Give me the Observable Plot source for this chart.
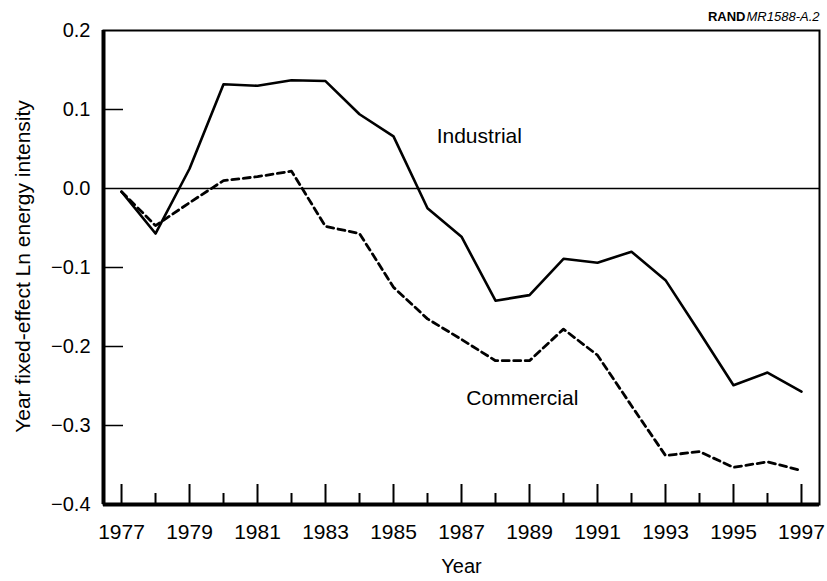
<!DOCTYPE html>
<html>
<head>
<meta charset="utf-8">
<script src="https://cdn.jsdelivr.net/npm/d3@7"></script>
<script src="https://cdn.jsdelivr.net/npm/@observablehq/plot@0.6"></script>
<style>
  html, body { margin: 0; padding: 0; background: #fff; }
  #chart { width: 827px; height: 581px; }
</style>
</head>
<body>
<div id="chart"></div>
<script>
const years = [1977,1978,1979,1980,1981,1982,1983,1984,1985,1986,1987,1988,1989,1990,1991,1992,1993,1994,1995,1996,1997];
const industrial = [-0.004,-0.057,0.025,0.132,0.130,0.137,0.136,0.094,0.066,-0.025,-0.061,-0.142,-0.135,-0.089,-0.094,-0.080,-0.116,-0.182,-0.249,-0.233,-0.257];
const commercial = [-0.004,-0.047,-0.018,0.010,0.015,0.022,-0.048,-0.057,-0.125,-0.165,-0.191,-0.218,-0.218,-0.178,-0.211,-0.275,-0.338,-0.333,-0.353,-0.346,-0.357];
const xLabelTicks = [1977,1979,1981,1983,1985,1987,1989,1991,1993,1995,1997];
const xMinorTicks = [1978,1980,1982,1984,1986,1988,1990,1992,1994,1996];
const yTickValues = [0.2,0.1,0.0,-0.1,-0.2,-0.3,-0.4];
const yInnerTicks = [0.1,-0.1,-0.2,-0.3];
const xDomain = [1976.47, 1997.53];
const yDomain = [-0.4, 0.2];
const seriesLabels = [
  {name: "Industrial", year: 1986.27, value: 0.066, anchor: "start"},
  {name: "Commercial", year: 1988.79, value: -0.265, anchor: "middle"}
];

const ind = years.map((y, i) => ({year: y, value: industrial[i]}));
const com = years.map((y, i) => ({year: y, value: commercial[i]}));
const fmt = d3.format(".1f");

const plot = Plot.plot({
  width: 827,
  height: 581,
  marginLeft: 103,
  marginRight: 8,
  marginTop: 30,
  marginBottom: 77,
  style: {fontFamily: "'Liberation Sans', Arial, Helvetica, sans-serif", fontSize: "20px", color: "#000", background: "#fff"},
  x: {domain: xDomain},
  y: {domain: yDomain},
  marks: [
    Plot.frame({stroke: "#000", strokeWidth: 2}),
    Plot.ruleY([0], {stroke: "#000", strokeWidth: 1.5}),
    Plot.ruleY([yDomain[0]], {stroke: "#000", strokeWidth: 4}),
    Plot.ruleX([xDomain[0]], {stroke: "#000", strokeWidth: 4}),
    Plot.axisX({ticks: xLabelTicks, tickSize: -20, tickPadding: 40, tickFormat: d => String(d), label: null, strokeWidth: 2, fontSize: 21}),
    Plot.axisX({ticks: xMinorTicks, tickSize: -11, tickFormat: () => "", label: null, strokeWidth: 2}),
    Plot.axisY({ticks: yInnerTicks, tickSize: -20, tickFormat: () => "", label: null, strokeWidth: 1.5}),
    Plot.axisY({ticks: yTickValues, tickSize: 0, tickPadding: 13, tickFormat: fmt, label: null, fontSize: 20}),
    Plot.line(ind, {x: "year", y: "value", stroke: "#000", strokeWidth: 2.6}),
    Plot.line(com, {x: "year", y: "value", stroke: "#000", strokeWidth: 2.8, strokeDasharray: "7,4.5"}),
    Plot.text(seriesLabels, {x: "year", y: "value", text: "name", textAnchor: "start", filter: d => d.anchor === "start", fontSize: 21, fill: "#000"}),
    Plot.text(seriesLabels, {x: "year", y: "value", text: "name", textAnchor: "middle", filter: d => d.anchor === "middle", fontSize: 21, fill: "#000"}),
    Plot.text(["Year"], {frameAnchor: "bottom", textAnchor: "middle", lineAnchor: "middle", dy: 62, fontSize: 20, fill: "#000"}),
    Plot.text(["Year fixed-effect Ln energy intensity"], {frameAnchor: "left", textAnchor: "middle", lineAnchor: "middle", rotate: -90, dx: -80, dy: -1, fontSize: 21, fill: "#000"}),
    Plot.text(["MR1588-A.2"], {frameAnchor: "top-right", textAnchor: "end", lineAnchor: "middle", dy: -14, fontSize: 13, fontStyle: "italic", fill: "#000"}),
    Plot.text(["RAND"], {frameAnchor: "top-right", textAnchor: "end", lineAnchor: "middle", dx: -74, dy: -14, fontSize: 13, fontWeight: "bold", fill: "#000"})
  ]
});
document.getElementById("chart").appendChild(plot);
</script>
</body>
</html>
